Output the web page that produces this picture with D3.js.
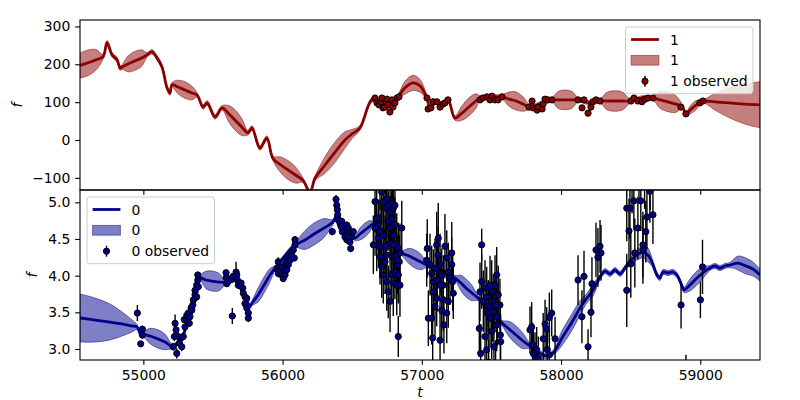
<!DOCTYPE html>
<html><head><meta charset="utf-8">
<script src="https://cdn.jsdelivr.net/npm/d3@7"></script>
<style>body{margin:0;background:#fff}svg{display:block}</style>
</head><body><svg id="c" width="800" height="400"></svg>
<script>
// ---------- tick labels / domains ----------
const xTicks=[55000,56000,57000,58000,59000];
const topYTicks=[-100,0,100,200,300];
const botYTicks=[3.0,3.5,4.0,4.5,5.0];
const xDomain=[54545,59429];
const topYDomain=[-132,317];
const botYDomain=[2.85,5.168];
const topLegend=["1","1","1 observed"];
const botLegend=["0","0","0 observed"];

// ---------- series "1" (top) : prediction mean / band half-width ----------
const topT=[54545,54603,54660,54711,54739,54775,54811,54833,54847,54890,54940,54991,55027,55062,55098,55134,55170,55191,55206,55249,55299,55350,55386,55429,55458,55515,55565,55615,55658,55708,55751,55780,55837,55887,55930,55988,56038,56095,56146,56197,56233,56305,56377,56448,56499,56556,56642,56699,56771,56829,56879,56936,56987,57037,57058,57101,57144,57188,57238,57288,57346,57389,57418,57490,57576,57627,57677,57727,57777,57849,57935,57978,58028,58079,58122,58208,58280,58330,58388,58445,58495,58581,58660,58710,58768,58825,58868,58897,58926,58962,58991,59012,59033,59105,59213,59321,59429];
const topMean=[197,204,212,220,257,225,212,190,193,201,209,217,225,233,217,193,138,124,146,140,132,124,119,87,98,61,85,69,53,34,19,32,-21,5,-48,-66,-79,-93,-106,-138,-101,-66,-32,0,16,32,106,98,90,114,138,151,143,111,85,101,93,106,58,71,90,103,111,114,114,108,103,95,87,95,106,106,106,106,106,98,103,103,103,103,103,111,111,106,101,95,90,69,79,90,98,103,103,101,98,95,93];
const topSd=[33,34,27,6,6,6,6,6,6,21,25,21,6,6,6,6,6,6,6,18,22,18,6,6,6,6,6,22,27,22,6,6,6,6,6,21,25,21,6,6,6,22,27,22,12,6,6,6,6,6,17,20,17,6,6,6,6,6,6,19,24,19,6,6,6,19,24,19,6,6,6,22,26,22,6,6,6,23,27,23,6,6,6,22,26,22,6,6,10,13,8,6,6,22,40,53,61];
// observed "1"
const topObsT=[56664,56678,56692,56707,56714,56721,56735,56743,56750,56757,56771,56786,56793,56807,56822,56836,57037,57045,57066,57080,57109,57131,57152,57166,57188,57418,57439,57468,57490,57504,57525,57547,57576,57770,57792,57799,57828,57835,57864,57871,57885,57907,57935,58122,58151,58165,58194,58215,58229,58251,58280,58502,58524,58552,58581,58603,58625,58660,58861,58897,58997,59019];
const topObsF=[111,98,93,101,111,85,87,101,108,93,74,106,87,98,111,114,111,82,85,101,101,87,95,98,106,106,111,114,106,116,106,106,114,87,103,85,79,87,82,95,108,106,106,106,85,106,71,87,101,106,103,103,111,103,101,108,111,111,87,69,98,103];
const topObsErr=[3,3,4,3,3,4,3,3,3,4,4,3,3,3,3,3,3,4,3,3,3,3,3,3,3,3,3,3,3,3,3,3,3,4,3,4,4,3,4,3,3,3,3,3,4,3,4,3,3,3,3,3,3,3,3,3,3,3,4,4,3,3];

// ---------- series "0" (bottom) : prediction mean / band half-width ----------
const botT=[54545,54653,54761,54847,54919,54955,54976,54998,55048,55106,55156,55206,55249,55285,55321,55357,55386,55407,55450,55493,55544,55587,55637,55680,55723,55766,55781,55824,55867,55910,55946,55982,56018,56053,56089,56161,56226,56298,56362,56391,56434,56477,56520,56556,56592,56628,56649,56700,56757,56807,56857,56908,56951,56994,57037,57095,57145,57195,57238,57281,57317,57360,57403,57453,57504,57547,57576,57627,57677,57727,57777,57834,57892,57942,58007,58079,58136,58186,58230,58280,58316,58352,58388,58424,58459,58495,58545,58588,58624,58653,58689,58710,58732,58768,58804,58832,58875,58883,58926,58976,59026,59069,59105,59141,59177,59213,59270,59328,59378,59429];
const botMean=[3.423,3.395,3.368,3.341,3.314,3.300,3.218,3.204,3.177,3.136,3.095,3.041,3.082,3.191,3.368,3.559,3.777,3.968,3.941,3.927,3.913,3.913,3.995,3.900,3.736,3.586,3.627,3.736,3.873,4.009,4.104,4.186,4.268,4.350,4.418,4.486,4.568,4.650,4.731,4.827,4.690,4.595,4.513,4.568,4.622,4.677,4.704,4.650,4.541,4.418,4.309,4.268,4.227,4.186,4.145,4.104,4.063,4.009,3.968,3.900,3.832,3.763,3.695,3.600,3.504,3.423,3.354,3.273,3.191,3.109,3.041,2.959,2.905,2.945,3.150,3.368,3.559,3.695,3.804,3.982,4.063,4.023,4.077,4.023,4.104,4.186,4.282,4.322,4.282,4.186,4.009,3.968,4.050,4.036,4.050,4.009,3.832,3.804,3.873,3.968,4.050,4.104,4.132,4.104,4.132,4.145,4.172,4.132,4.091,4.009];
const botSd=[0.327,0.300,0.245,0.164,0.082,0.035,0.035,0.035,0.105,0.125,0.105,0.035,0.035,0.035,0.035,0.035,0.035,0.035,0.118,0.136,0.118,0.035,0.035,0.035,0.035,0.035,0.035,0.095,0.109,0.090,0.035,0.035,0.035,0.035,0.035,0.128,0.150,0.128,0.035,0.035,0.035,0.035,0.035,0.082,0.095,0.075,0.035,0.035,0.035,0.035,0.035,0.105,0.123,0.105,0.035,0.035,0.035,0.035,0.035,0.105,0.123,0.105,0.035,0.035,0.035,0.035,0.035,0.105,0.123,0.105,0.035,0.035,0.035,0.035,0.100,0.112,0.100,0.065,0.082,0.035,0.035,0.035,0.035,0.035,0.035,0.041,0.068,0.082,0.095,0.055,0.035,0.035,0.035,0.035,0.035,0.035,0.035,0.035,0.082,0.095,0.072,0.035,0.035,0.035,0.035,0.035,0.095,0.109,0.095,0.082];
// observed "0"
const botObsT=[54957,54993,54993,54981,
55215,55223,55228,55235,55240,55251,55259,55269,55276,55287,55294,55299,55312,55312,55323,55330,55335,55343,55348,55355,55359,55371,55371,55383,55383,55391,55391,55395,
55594,55594,55599,55610,55635,55646,55666,55671,55675,55682,55702,55714,55718,55730,55743,55730,55743,55754,55754,55639,
55958,55969,55974,55969,55982,55989,55994,56005,56013,56018,56023,56030,56030,56041,56041,56053,56066,56077,56084,56089,56089,
56384,56389,56393,56396,56400,56413,56357,56425,56436,56448,56461,56472,56484,56497,56508,56448,56461,56484,56489,56472,56429,56420,
56664,56712,56723,56736,56748,56759,56772,56784,56795,56807,56676,56688,56700,56664,56652,56676,56700,56723,56736,56748,56759,56772,56784,56795,56807,56820,56831,56843,56856,56712,56723,56736,56748,56759,56772,56784,56795,56807,56820,56831,56843,56838,56824,56831,56700,56807,56820,56688,56772,56795,56700,56740,56790,
57039,57035,57059,57071,57083,57083,57095,57107,57118,57118,57131,57143,57154,57166,57179,57190,57202,57215,57215,57222,57226,57047,57071,57078,57131,57143,57159,57179,57107,57095,57190,57154,57131,57111,
57430,57418,57430,57442,57454,57466,57477,57490,57502,57513,57526,57538,57549,57561,57413,57454,57466,57490,57502,57518,57538,57564,57566,57423,57477,57509,57526,57542,57480,57530,
57777,57789,57796,57813,57825,57872,57885,57897,57916,57933,57901,57916,57957,57801,57837,
58122,58150,58165,58194,58215,58222,58251,58265,58280,58287,
58472,58495,58523,58488,58472,58501,58552,58573,58588,58609,58617,58660,58638,58530,58588,58510,58560,58600,58640,
58862,59001,59016,58897];
const botObsF=[3.49,3.27,3.19,3.07,
3.03,3.17,3.35,3.26,2.94,3.17,3.08,3.15,3.03,3.17,3.40,3.30,3.40,3.46,3.49,3.35,3.44,3.56,3.53,3.60,3.67,3.74,3.80,3.71,3.87,4.01,3.94,3.85,
4.04,3.97,3.89,3.92,3.95,3.99,4.05,4.01,3.94,3.87,3.90,3.83,3.76,3.71,3.69,3.62,3.56,3.49,3.42,3.45,
4.09,4.19,4.12,4.03,4.08,4.12,4.01,3.96,4.08,4.01,4.17,4.08,4.24,4.15,4.26,4.21,4.28,4.35,4.24,4.42,4.49,
5.04,4.96,4.90,4.83,4.76,4.71,4.60,4.74,4.67,4.62,4.69,4.65,4.58,4.53,4.60,4.53,4.49,4.46,4.37,4.53,4.60,4.67,
5.01,5.14,5.01,4.92,5.05,4.96,4.87,4.99,4.92,4.96,4.78,4.69,4.60,4.65,4.42,4.42,4.40,4.55,4.40,4.28,4.74,4.65,4.78,4.55,4.69,4.42,4.37,4.31,4.65,4.12,4.01,4.19,3.92,3.78,3.65,4.01,3.90,4.05,3.87,4.01,3.87,4.19,4.15,3.17,4.26,4.26,4.21,4.51,4.44,4.42,5.35,5.30,5.28,
4.37,4.21,4.15,4.03,3.92,3.78,4.10,4.42,4.51,4.28,4.15,4.01,3.87,4.40,4.24,4.05,3.96,4.31,4.15,3.92,3.76,3.42,3.42,3.15,3.12,3.53,3.33,3.49,3.69,3.58,3.65,3.67,3.87,3.94,
4.42,3.78,3.92,3.65,3.83,3.71,3.58,3.87,3.78,3.65,3.87,4.01,3.74,3.60,3.28,3.17,2.99,3.42,3.24,3.03,3.33,3.19,3.10,2.94,3.49,3.51,3.60,3.44,2.82,2.80,
3.26,3.30,3.06,2.90,2.99,3.14,3.34,3.27,3.43,3.49,2.99,2.92,3.14,2.94,2.87,
3.94,3.44,3.99,3.03,3.50,3.89,4.35,4.25,4.40,4.31,
4.92,4.92,5.02,4.61,3.80,4.16,4.65,5.02,4.42,4.60,4.80,4.83,5.15,4.31,4.35,5.30,5.40,5.35,5.30,
3.60,3.67,4.12,2.70];
const botObsErr=[0.11,0.05,0.05,0.04,
0.05,0.06,0.12,0.05,0.07,0.05,0.05,0.05,0.06,0.05,0.05,0.05,0.05,0.04,0.05,0.05,0.05,0.05,0.05,0.04,0.05,0.04,0.05,0.05,0.04,0.04,0.05,0.05,
0.04,0.05,0.04,0.05,0.05,0.04,0.14,0.05,0.05,0.05,0.04,0.05,0.05,0.05,0.04,0.05,0.05,0.05,0.05,0.11,
0.05,0.06,0.04,0.05,0.04,0.04,0.05,0.04,0.04,0.04,0.04,0.05,0.04,0.04,0.04,0.04,0.05,0.04,0.04,0.05,0.05,
0.06,0.05,0.05,0.05,0.05,0.04,0.05,0.05,0.04,0.05,0.05,0.04,0.05,0.05,0.04,0.05,0.05,0.04,0.05,0.05,0.04,0.05,
0.42,0.45,0.38,0.44,0.40,0.36,0.42,0.39,0.45,0.37,0.41,0.35,0.43,0.38,0.40,0.36,0.44,0.39,0.42,0.37,0.40,0.44,0.36,0.41,0.38,0.43,0.35,0.40,0.37,0.42,0.39,0.44,0.40,0.36,0.42,0.38,0.45,0.37,0.41,0.39,0.43,0.36,0.40,0.28,0.38,0.42,0.37,0.40,0.39,0.41,0.45,0.42,0.44,
0.40,0.36,0.42,0.38,0.44,0.37,0.40,0.45,0.48,0.39,0.42,0.36,0.41,0.44,0.38,0.40,0.36,0.42,0.37,0.40,0.35,0.38,0.36,0.40,0.42,0.37,0.39,0.41,0.38,0.40,0.36,0.42,0.39,0.43,
0.22,0.40,0.37,0.42,0.38,0.41,0.36,0.40,0.43,0.37,0.41,0.38,0.40,0.36,0.39,0.42,0.37,0.40,0.38,0.41,0.36,0.40,0.37,0.40,0.38,0.41,0.37,0.40,0.30,0.32,
0.32,0.34,0.30,0.33,0.31,0.35,0.33,0.30,0.34,0.32,0.31,0.33,0.30,0.32,0.30,
0.34,0.36,0.35,0.24,0.34,0.36,0.37,0.40,0.36,0.38,
0.45,0.42,0.40,0.44,0.50,0.46,0.43,0.41,0.45,0.42,0.44,0.40,0.43,0.47,0.46,0.45,0.42,0.44,0.40,
0.32,0.25,0.37,0.22];

// ---------- layout ----------
const L=80,R=760;
const FS=13.9;
const svg=d3.select("#c");
svg.append("rect").attr("width",800).attr("height",400).attr("fill","#fff");
const defs=svg.append("defs");
const x=d3.scaleLinear().domain(xDomain).range([L,R]);
const curve=d3.curveCatmullRom.alpha(0.5);

function drawPanel(p){
  const g=svg.append("g");
  const cid=p.id+"clip";
  defs.append("clipPath").attr("id",cid).append("rect")
    .attr("x",L).attr("y",p.top).attr("width",R-L).attr("height",p.bottom-p.top);
  const y=d3.scaleLinear().domain(p.domain).range([p.bottom,p.top]);
  const knots=p.T.map((t,i)=>({t,m:p.M[i],s:p.S[i]}));
  const obs=p.oT.map((t,i)=>({t,f:p.oF[i],e:p.oE[i]}));
  const c=g.append("g").attr("clip-path",`url(#${cid})`);
  const area=d3.area().x(d=>x(d.t)).y0(d=>y(d.m-d.s)).y1(d=>y(d.m+d.s)).curve(curve);
  c.append("path").datum(knots).attr("d",area)
    .attr("fill",p.color).attr("fill-opacity",0.5)
    .attr("stroke",p.color).attr("stroke-opacity",0.5).attr("stroke-width",1);
  const line=d3.line().x(d=>x(d.t)).y(d=>y(d.m)).curve(curve);
  c.append("path").datum(knots).attr("d",line).attr("fill","none")
    .attr("stroke",p.color).attr("stroke-width",2.8).attr("stroke-linejoin","round");
  c.append("g").selectAll("line").data(obs).join("line")
    .attr("x1",d=>x(d.t)).attr("x2",d=>x(d.t))
    .attr("y1",d=>y(d.f-d.e)).attr("y2",d=>y(d.f+d.e))
    .attr("stroke","#000").attr("stroke-width",1.4);
  c.append("g").selectAll("circle").data(obs).join("circle")
    .attr("cx",d=>x(d.t)).attr("cy",d=>y(d.f)).attr("r",3.1)
    .attr("fill",p.color).attr("stroke","#000").attr("stroke-width",1);

  // axes
  const ya=d3.axisLeft(y).tickValues(p.yTicks).tickFormat(p.yFmt).tickSize(4.86).tickPadding(4.86);
  const yg=g.append("g").attr("transform",`translate(${L},0)`).call(ya);
  yg.select(".domain").remove();
  yg.attr("font-family","DejaVu Sans").attr("font-size",FS);
  yg.selectAll("line").attr("stroke-width",1.1);
  yg.selectAll("text").attr("fill","#000");
  const xa=d3.axisBottom(x).tickValues(xTicks).tickSize(4.86).tickPadding(4.86)
    .tickFormat(p.showX?d3.format("d"):()=>"");
  const xg=g.append("g").attr("transform",`translate(0,${p.bottom})`).call(xa);
  xg.select(".domain").remove();
  xg.attr("font-family","DejaVu Sans").attr("font-size",FS);
  xg.selectAll("line").attr("stroke-width",1.1);
  xg.selectAll("text").attr("fill","#000");
  g.append("rect").attr("x",L).attr("y",p.top).attr("width",R-L).attr("height",p.bottom-p.top)
    .attr("fill","none").attr("stroke","#000").attr("stroke-width",1.1);

  // y label
  g.append("text").attr("transform",`translate(${p.ylabX},${(p.top+p.bottom)/2}) rotate(-90)`)
    .attr("text-anchor","middle").attr("font-family","DejaVu Sans").attr("font-style","italic")
    .attr("font-size",FS).text("f");

  // legend
  const lw=127.5, lh=66.7;
  const lx=p.legX, ly=p.legY;
  const lg=g.append("g");
  lg.append("rect").attr("x",lx).attr("y",ly).attr("width",lw).attr("height",lh).attr("rx",3)
    .attr("fill","#fff").attr("fill-opacity",0.8).attr("stroke","#ccc").attr("stroke-width",1);
  const hx=lx+5.6, hw=27.8;
  const cy=[ly+12.5, ly+12.5+20.85, ly+12.5+41.7];
  lg.append("line").attr("x1",hx).attr("x2",hx+hw).attr("y1",cy[0]).attr("y2",cy[0])
    .attr("stroke",p.color).attr("stroke-width",2.8);
  lg.append("rect").attr("x",hx).attr("y",cy[1]-4.9).attr("width",hw).attr("height",9.7)
    .attr("fill",p.color).attr("fill-opacity",0.5).attr("stroke",p.color).attr("stroke-opacity",0.5);
  lg.append("line").attr("x1",hx+hw/2).attr("x2",hx+hw/2).attr("y1",cy[2]-5.5).attr("y2",cy[2]+5.5)
    .attr("stroke","#000").attr("stroke-width",1.4);
  lg.append("circle").attr("cx",hx+hw/2).attr("cy",cy[2]).attr("r",3.1)
    .attr("fill",p.color).attr("stroke","#000").attr("stroke-width",1);
  p.legend.forEach((s,i)=>{
    lg.append("text").attr("x",hx+hw+11.1).attr("y",cy[i]+5)
      .attr("font-family","DejaVu Sans").attr("font-size",FS).attr("fill","#000").text(s);
  });
}

drawPanel({id:"top",top:20,bottom:190,domain:topYDomain,T:topT,M:topMean,S:topSd,
  oT:topObsT,oF:topObsF,oE:topObsErr,color:"#8B0000",yTicks:topYTicks,yFmt:d3.format("d"),
  showX:false,ylabX:22,legX:625.5,legY:27,legend:topLegend});
drawPanel({id:"bot",top:190,bottom:360,domain:botYDomain,T:botT,M:botMean,S:botSd,
  oT:botObsT,oF:botObsF,oE:botObsErr,color:"#00008B",yTicks:botYTicks,yFmt:d3.format(".1f"),
  showX:true,ylabX:37,legX:87,legY:197,legend:botLegend});

svg.append("text").attr("x",(L+R)/2).attr("y",397).attr("text-anchor","middle")
  .attr("font-family","DejaVu Sans").attr("font-style","italic").attr("font-size",FS).text("t");
</script></body></html>
